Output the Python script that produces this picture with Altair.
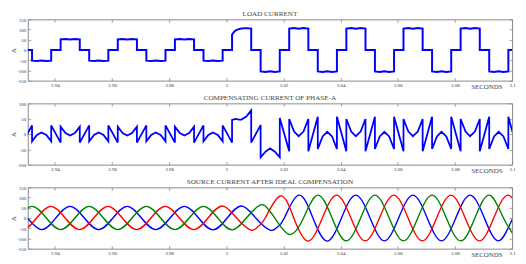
import altair as alt
import pandas as pd

FONT = "Liberation Serif"
TXT = "#444444"
LAB = "#333333"
FRAME = "#8a8a8a"

# axis limits and ticks
T_LIMITS = [2.9305, 3.1]
X_TICKS = [2.94, 2.96, 2.98, 3.0, 3.02, 3.04, 3.06, 3.08, 3.1]
Y_TICKS_150 = [-150, -100, -50, 0, 50, 100, 150]
Y_TICKS_100 = [-100, -50, 0, 50, 100]

TITLES = ["LOAD CURRENT", "COMPENSATING CURRENT OF PHASE-A",
          "SOURCE CURRENT AFTER IDEAL COMPENSATION"]

# ---- panel 1: load current (time s, current A) ----
load_pts = [
    (2.9290, 0),
    (2.9320, 0), (2.9320, -52), (2.9337, -54), (2.9353, -51), (2.9370, -54), (2.9387, -52), (2.9387, 0),
    (2.9420, 0), (2.9420, 52), (2.9437, 54), (2.9453, 51), (2.9470, 54), (2.9487, 52), (2.9487, 0),
    (2.9520, 0), (2.9520, -52), (2.9537, -54), (2.9553, -51), (2.9570, -54), (2.9587, -52), (2.9587, 0),
    (2.9620, 0), (2.9620, 52), (2.9637, 54), (2.9653, 51), (2.9670, 54), (2.9687, 52), (2.9687, 0),
    (2.9720, 0), (2.9720, -52), (2.9737, -54), (2.9753, -51), (2.9770, -54), (2.9787, -52), (2.9787, 0),
    (2.9820, 0), (2.9820, 52), (2.9837, 54), (2.9853, 51), (2.9870, 54), (2.9887, 52), (2.9887, 0),
    (2.9920, 0), (2.9920, -52), (2.9937, -54), (2.9953, -51), (2.9970, -54), (2.9987, -52), (2.9987, 0),
    (3.0020, 0), (3.0020, 75), (3.0027, 88), (3.0033, 96), (3.0043, 102), (3.0053, 105), (3.0070, 107), (3.0087, 105), (3.0087, 0),
    (3.0120, 0), (3.0120, -105), (3.0137, -108), (3.0153, -104), (3.0170, -108), (3.0187, -105), (3.0187, 0),
    (3.0220, 0), (3.0220, 105), (3.0237, 108), (3.0253, 104), (3.0270, 108), (3.0287, 105), (3.0287, 0),
    (3.0320, 0), (3.0320, -105), (3.0337, -108), (3.0353, -104), (3.0370, -108), (3.0387, -105), (3.0387, 0),
    (3.0420, 0), (3.0420, 105), (3.0437, 108), (3.0453, 104), (3.0470, 108), (3.0487, 105), (3.0487, 0),
    (3.0520, 0), (3.0520, -105), (3.0537, -108), (3.0553, -104), (3.0570, -108), (3.0587, -105), (3.0587, 0),
    (3.0620, 0), (3.0620, 105), (3.0637, 108), (3.0653, 104), (3.0670, 108), (3.0687, 105), (3.0687, 0),
    (3.0720, 0), (3.0720, -105), (3.0737, -108), (3.0753, -104), (3.0770, -108), (3.0787, -105), (3.0787, 0),
    (3.0820, 0), (3.0820, 105), (3.0837, 108), (3.0853, 104), (3.0870, 108), (3.0887, 105), (3.0887, 0),
    (3.0920, 0), (3.0920, -105), (3.0937, -108), (3.0953, -104), (3.0970, -108), (3.0987, -105), (3.0987, 0),
    (3.1010, 0),
]

# ---- panel 2: compensating current of phase A ----
comp_pts = [
    (2.9287, -28), (2.9320, 28),
    (2.9320, -24), (2.9337, -3), (2.9353, 5), (2.9370, -3), (2.9387, -24),
    (2.9387, 28), (2.9420, -28),
    (2.9420, 24), (2.9437, 3), (2.9453, -5), (2.9470, 3), (2.9487, 24),
    (2.9487, -28), (2.9520, 28),
    (2.9520, -24), (2.9537, -3), (2.9553, 5), (2.9570, -3), (2.9587, -24),
    (2.9587, 28), (2.9620, -28),
    (2.9620, 24), (2.9637, 3), (2.9653, -5), (2.9670, 3), (2.9687, 24),
    (2.9687, -28), (2.9720, 28),
    (2.9720, -24), (2.9737, -3), (2.9753, 5), (2.9770, -3), (2.9787, -24),
    (2.9787, 28), (2.9820, -28),
    (2.9820, 24), (2.9837, 3), (2.9853, -5), (2.9870, 3), (2.9887, 24),
    (2.9887, -28), (2.9920, 28),
    (2.9920, -24), (2.9937, -3), (2.9953, 5), (2.9970, -3), (2.9987, -24),
    (2.9987, 28), (3.0020, -28),
    (3.0020, 46), (3.0027, 48), (3.0033, 49), (3.0043, 47), (3.0053, 47), (3.0070, 57), (3.0087, 77),
    (3.0087, -28), (3.0120, 29),
    (3.0120, -76), (3.0137, -58), (3.0153, -47), (3.0170, -58), (3.0187, -76),
    (3.0187, 52), (3.0220, -56),
    (3.0220, 49), (3.0237, 8), (3.0253, -7), (3.0270, 8), (3.0287, 49),
    (3.0287, -56), (3.0320, 56),
    (3.0320, -49), (3.0337, -8), (3.0353, 7), (3.0370, -8), (3.0387, -49),
    (3.0387, 56), (3.0420, -56),
    (3.0420, 49), (3.0437, 8), (3.0453, -7), (3.0470, 8), (3.0487, 49),
    (3.0487, -56), (3.0520, 56),
    (3.0520, -49), (3.0537, -8), (3.0553, 7), (3.0570, -8), (3.0587, -49),
    (3.0587, 56), (3.0620, -56),
    (3.0620, 49), (3.0637, 8), (3.0653, -7), (3.0670, 8), (3.0687, 49),
    (3.0687, -56), (3.0720, 56),
    (3.0720, -49), (3.0737, -8), (3.0753, 7), (3.0770, -8), (3.0787, -49),
    (3.0787, 56), (3.0820, -56),
    (3.0820, 49), (3.0837, 8), (3.0853, -7), (3.0870, 8), (3.0887, 49),
    (3.0887, -56), (3.0920, 56),
    (3.0920, -49), (3.0937, -8), (3.0953, 7), (3.0970, -8), (3.0987, -49),
    (3.0987, 56), (3.1020, -56),
]

# ---- panel 3: source currents (peaks / zero crossings) ----
src_a = [
    (2.9253, 57), (2.9303, 0), (2.9353, -57), (2.9403, 0), (2.9453, 57), (2.9503, 0),
    (2.9553, -57), (2.9603, 0), (2.9653, 57), (2.9703, 0), (2.9753, -57), (2.9803, 0),
    (2.9853, 57), (2.9903, 0), (2.9953, -58), (3.0003, 0), (3.0053, 59), (3.0103, 0),
    (3.0153, -59), (3.0178, -45), (3.0203, 0), (3.0253, 112), (3.0303, 0), (3.0353, -113),
    (3.0403, 0), (3.0453, 112), (3.0503, 0), (3.0553, -112), (3.0603, 0), (3.0653, 112),
    (3.0703, 0), (3.0753, -112), (3.0803, 0), (3.0853, 112), (3.0903, 0), (3.0953, -112),
    (3.1003, 0), (3.1053, 112),
]
src_b = [
    (2.9236, 0), (2.9286, -57), (2.9336, 0), (2.9386, 57), (2.9436, 0), (2.9486, -57),
    (2.9536, 0), (2.9586, 57), (2.9636, 0), (2.9686, -57), (2.9736, 0), (2.9786, 57),
    (2.9836, 0), (2.9886, -57), (2.9936, 0), (2.9986, 59), (3.0036, 0), (3.0086, -59),
    (3.0111, -42), (3.0136, 0), (3.0189, 108), (3.0236, 0), (3.0286, -113), (3.0336, 0),
    (3.0386, 112), (3.0436, 0), (3.0486, -112), (3.0536, 0), (3.0586, 112), (3.0636, 0),
    (3.0686, -112), (3.0736, 0), (3.0786, 112), (3.0836, 0), (3.0886, -112), (3.0936, 0),
    (3.0986, 112), (3.1036, 0),
]
src_c = [
    (2.9270, 0), (2.9320, 57), (2.9370, 0), (2.9420, -57), (2.9470, 0), (2.9520, 57),
    (2.9570, 0), (2.9620, -57), (2.9670, 0), (2.9720, 57), (2.9770, 0), (2.9820, -57),
    (2.9870, 0), (2.9920, 57), (2.9970, 0), (3.0020, -58), (3.0070, 0), (3.0120, 64),
    (3.0145, 45), (3.0170, 0), (3.0220, -80), (3.0270, 0), (3.0320, 112), (3.0370, 0),
    (3.0420, -112), (3.0470, 0), (3.0520, 112), (3.0570, 0), (3.0620, -112), (3.0670, 0),
    (3.0720, 112), (3.0770, 0), (3.0820, -112), (3.0870, 0), (3.0920, 112), (3.0970, 0),
    (3.1020, -112),
]
PHASES = ["a", "b", "c"]
PHASE_COLORS = ["#0000ff", "#ff0000", "#008000"]


def frame(pts):
    df = pd.DataFrame(pts, columns=["t", "v"])
    df["i"] = range(len(df))
    return df


load_df = frame(load_pts)
comp_df = frame(comp_pts)
src_df = pd.concat(
    [frame(p).assign(phase=name) for p, name in zip([src_a, src_b, src_c], PHASES)],
    ignore_index=True,
)


def tick_axis(orient, values):
    return alt.Axis(orient=orient, offset=-3, tickSize=3, ticks=True, labels=False,
                    domain=False, grid=False, title=None, values=values,
                    tickColor=FRAME, tickWidth=0.8)


def panel(df, ydom, yticks, title, height, sw, interp, color_enc, use_order):
    xs = alt.Scale(domain=T_LIMITS, nice=False, zero=False)
    ys = alt.Scale(domain=ydom, nice=False, zero=False)
    ax_x = alt.Axis(orient="bottom", values=X_TICKS, labelExpr="'' + datum.value",
                    ticks=False, tickSize=0, domain=False, grid=False,
                    labelFont=FONT, labelFontSize=5, labelColor=LAB, labelPadding=1.5,
                    labelFlush=False,
                    title="SECONDS", titleFont=FONT, titleFontSize=7,
                    titleFontWeight="normal", titleColor=TXT,
                    titleX=480, titleY=8, titleAlign="right", titleBaseline="alphabetic")
    ax_y = alt.Axis(orient="left", values=yticks, labelExpr="'' + datum.value",
                    ticks=False, tickSize=0, domain=False, grid=False,
                    labelFont=FONT, labelFontSize=5, labelColor=LAB, labelPadding=2,
                    title="A", titleFont=FONT, titleFontSize=7, titleFontWeight="normal",
                    titleColor=TXT, titlePadding=0.5)
    base = alt.Chart(df)
    enc = dict(x=alt.X("t:Q", scale=xs, axis=ax_x),
               y=alt.Y("v:Q", scale=ys, axis=ax_y),
               color=color_enc)
    if use_order:
        enc["order"] = alt.Order("i:Q")
    main = base.mark_line(clip=True, strokeWidth=sw, interpolate=interp).encode(**enc)
    t1 = base.mark_line(clip=True, opacity=0).encode(
        x=alt.X("t:Q", scale=xs, axis=tick_axis("bottom", X_TICKS)),
        y=alt.Y("v:Q", scale=ys, axis=tick_axis("left", yticks)))
    t2 = base.mark_line(clip=True, opacity=0).encode(
        x=alt.X("t:Q", scale=xs, axis=tick_axis("top", X_TICKS)),
        y=alt.Y("v:Q", scale=ys, axis=tick_axis("right", yticks)))
    return alt.layer(main, t1, t2).resolve_axis(x="independent", y="independent").properties(
        width=490, height=height,
        title=alt.TitleParams(title, font=FONT, fontSize=7.2, fontWeight="normal",
                              color=TXT, offset=0, anchor="middle", frame="group"))


p1 = panel(load_df, [-150, 150], Y_TICKS_150, TITLES[0], 62, 2, "linear",
           alt.value("#0000ff"), True)
p2 = panel(comp_df, [-100, 100], Y_TICKS_100, TITLES[1], 62, 1.8, "linear",
           alt.value("#0000ff"), True)
p3 = panel(src_df, [-150, 150], Y_TICKS_150, TITLES[2], 62, 1.4, "natural",
           alt.Color("phase:N", scale=alt.Scale(domain=PHASES, range=PHASE_COLORS), legend=None),
           False)

chart = alt.vconcat(p1, p2, p3, spacing=23, bounds="flush").properties(
    padding={"left": 0, "top": 0, "right": 2, "bottom": 0},
    background="white",
).configure_view(stroke=FRAME, strokeWidth=1)

chart.save("out.html", embed_options={"renderer": "svg", "actions": False})
